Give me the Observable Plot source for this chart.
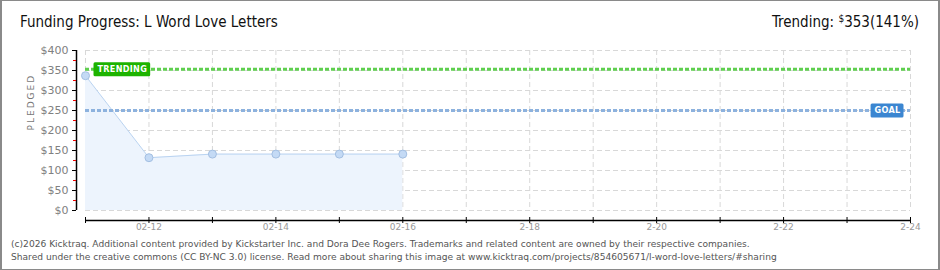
<!DOCTYPE html>
<html><head><meta charset="utf-8">
<script src="https://cdn.jsdelivr.net/npm/d3@7"></script>
<script src="https://cdn.jsdelivr.net/npm/@observablehq/plot@0.6"></script>
<style>
body{margin:0;background:#fff;}
#wrap{position:relative;width:940px;height:270px;overflow:hidden;background:#fff;font-family:"DejaVu Sans Condensed","DejaVu Sans",sans-serif;}
#frame{position:absolute;left:0;top:0;width:940px;height:270px;box-sizing:border-box;border:1px solid #8a8a8a;border-left:2px solid #8a8a8a;border-right:2px solid #8a8a8a;pointer-events:none;}
#title{position:absolute;left:20px;top:13px;font-size:15px;color:#111;white-space:nowrap;}
#trend{position:absolute;right:21px;top:13px;font-size:15px;color:#111;white-space:nowrap;}
#trend sup{font-size:10px;vertical-align:5px;}
#chart{position:absolute;left:0;top:40px;}
#foot{position:absolute;left:11px;top:238px;font-family:"DejaVu Sans",sans-serif;font-size:9.1px;color:#555;line-height:12.5px;white-space:nowrap;}
.ylab text{letter-spacing:2px;}
.tag text{letter-spacing:0.3px;font-family:"DejaVu Sans Condensed","DejaVu Sans",sans-serif;font-weight:bold;}
</style></head>
<body>
<div id="wrap">
  <div id="title">Funding Progress: L Word Love Letters</div>
  <div id="trend">Trending: <sup>$</sup>353(141%)</div>
  <div id="chart"></div>
  <div id="foot">(c)2026 Kicktraq. Additional content provided by Kickstarter Inc. and Dora Dee Rogers. Trademarks and related content are owned by their respective companies.<br>Shared under the creative commons (CC BY-NC 3.0) license. Read more about sharing this image at www.kicktraq.com/projects/854605671/l-word-love-letters/#sharing</div>
  <div id="frame"></div>
</div>
<script>
// ---- data ----
const dates = ["2026-02-11","2026-02-12","2026-02-13","2026-02-14","2026-02-15","2026-02-16"];
const pledged = [337, 132, 141, 141, 141, 141];
const goal = 250;
const trending = 353;
const axisDays = ["2026-02-11","2026-02-12","2026-02-13","2026-02-14","2026-02-15","2026-02-16","2026-02-17","2026-02-18","2026-02-19","2026-02-20","2026-02-21","2026-02-22","2026-02-23","2026-02-24"];
const labelDays = ["2026-02-12","2026-02-14","2026-02-16","2026-02-18","2026-02-20","2026-02-22","2026-02-24"];
const tickLabels = ["02-12","02-14","02-16","2-18","2-20","2-22","2-24"];
const yTicks = [0,50,100,150,200,250,300,350,400];
const yMinor = [25,75,125,175,225,275,325,375];

const parse = d3.utcParse("%Y-%m-%d");
const data = dates.map((d,i)=>({date: parse(d), value: pledged[i]}));
const days = axisDays.map(parse);
const lDays = labelDays.map(parse);
const start = days[0], end = days[days.length-1];

const plot = Plot.plot({
  width: 940, height: 195,
  marginLeft: 85, marginRight: 30, marginTop: 10, marginBottom: 25,
  style: {fontFamily: "DejaVu Sans, sans-serif", fontSize: "10px", color: "#888", background: "transparent"},
  x: {type: "utc", domain: [start, end], axis: null},
  y: {domain: [0, 400], axis: null},
  marks: [
    Plot.gridX(days, {stroke: "#d8d8d8", strokeOpacity: 1, strokeDasharray: "5,3"}),
    Plot.gridY(yTicks, {stroke: "#d8d8d8", strokeOpacity: 1, strokeDasharray: "5,3"}),
    Plot.areaY(data, {x: "date", y: "value", fill: "#edf4fd"}),
    Plot.lineY(data, {x: "date", y: "value", stroke: "#b9d3f1", strokeWidth: 1}),
    Plot.ruleY([trending], {stroke: "#5fcf4f", strokeWidth: 3, strokeDasharray: "4,2"}),
    Plot.ruleY([goal], {stroke: "#8db2de", strokeWidth: 3, strokeDasharray: "4,2"}),
    Plot.dot(data, {x: "date", y: "value", r: 4, fill: "#c4daf5", stroke: "#a3bfe2", strokeWidth: 1}),
    // axes
    Plot.ruleX([start], {dx: -9, stroke: "#000", strokeWidth: 1.5}),
    Plot.ruleY([0], {dy: 10, stroke: "#000", strokeWidth: 1.5}),
    Plot.axisY(yMinor, {anchor: "left", dx: -9, tickSize: 3, stroke: "#ee0000", tickFormat: () => "", label: null}),
    Plot.axisY(yTicks, {anchor: "left", dx: -9, tickSize: 4, tickPadding: 4, stroke: "#000", fill: "#808080", fontSize: 11, tickFormat: d => "$" + d, label: null}),
    Plot.axisX(days, {anchor: "bottom", dy: 7, tickSize: 6, stroke: "#000", tickFormat: () => "", label: null}),
    Plot.text(lDays, {x: d => d, text: (d, i) => tickLabels[i], frameAnchor: "bottom", dy: 19, fill: "#999", fontSize: 9}),
    Plot.text(["PLEDGED"], {frameAnchor: "left", dx: -54, rotate: -90, fill: "#777", fontSize: 9, className: "ylab"}),
    // tags
    Plot.text([trending], {x: () => start, y: d => d, text: () => "TRENDING", textAnchor: "start", dx: 12, fill: "#fff", fontSize: 9, className: "tag tag-trend"}),
    Plot.text([goal], {x: () => end, y: d => d, text: () => "GOAL", textAnchor: "end", dx: -10, fill: "#fff", fontSize: 9, className: "tag tag-goal"})
  ]
});
document.getElementById("chart").appendChild(plot);

// backgrounds behind tag labels
function boxes(cls, color) {
  plot.querySelectorAll("." + cls + " text").forEach(t => {
    const b = t.getBBox();
    const r = document.createElementNS("http://www.w3.org/2000/svg", "rect");
    r.setAttribute("x", b.x - 4);
    r.setAttribute("y", b.y + b.height/2 - 7);
    r.setAttribute("width", b.width + 7);
    r.setAttribute("height", 14);
    r.setAttribute("rx", 1.5);
    r.setAttribute("fill", color);
    const tr = t.getAttribute("transform");
    if (tr) r.setAttribute("transform", tr);
    t.parentNode.insertBefore(r, t);
  });
}
boxes("tag-trend", "#1db300");
boxes("tag-goal", "#3b86d1");
</script>
</body></html>
